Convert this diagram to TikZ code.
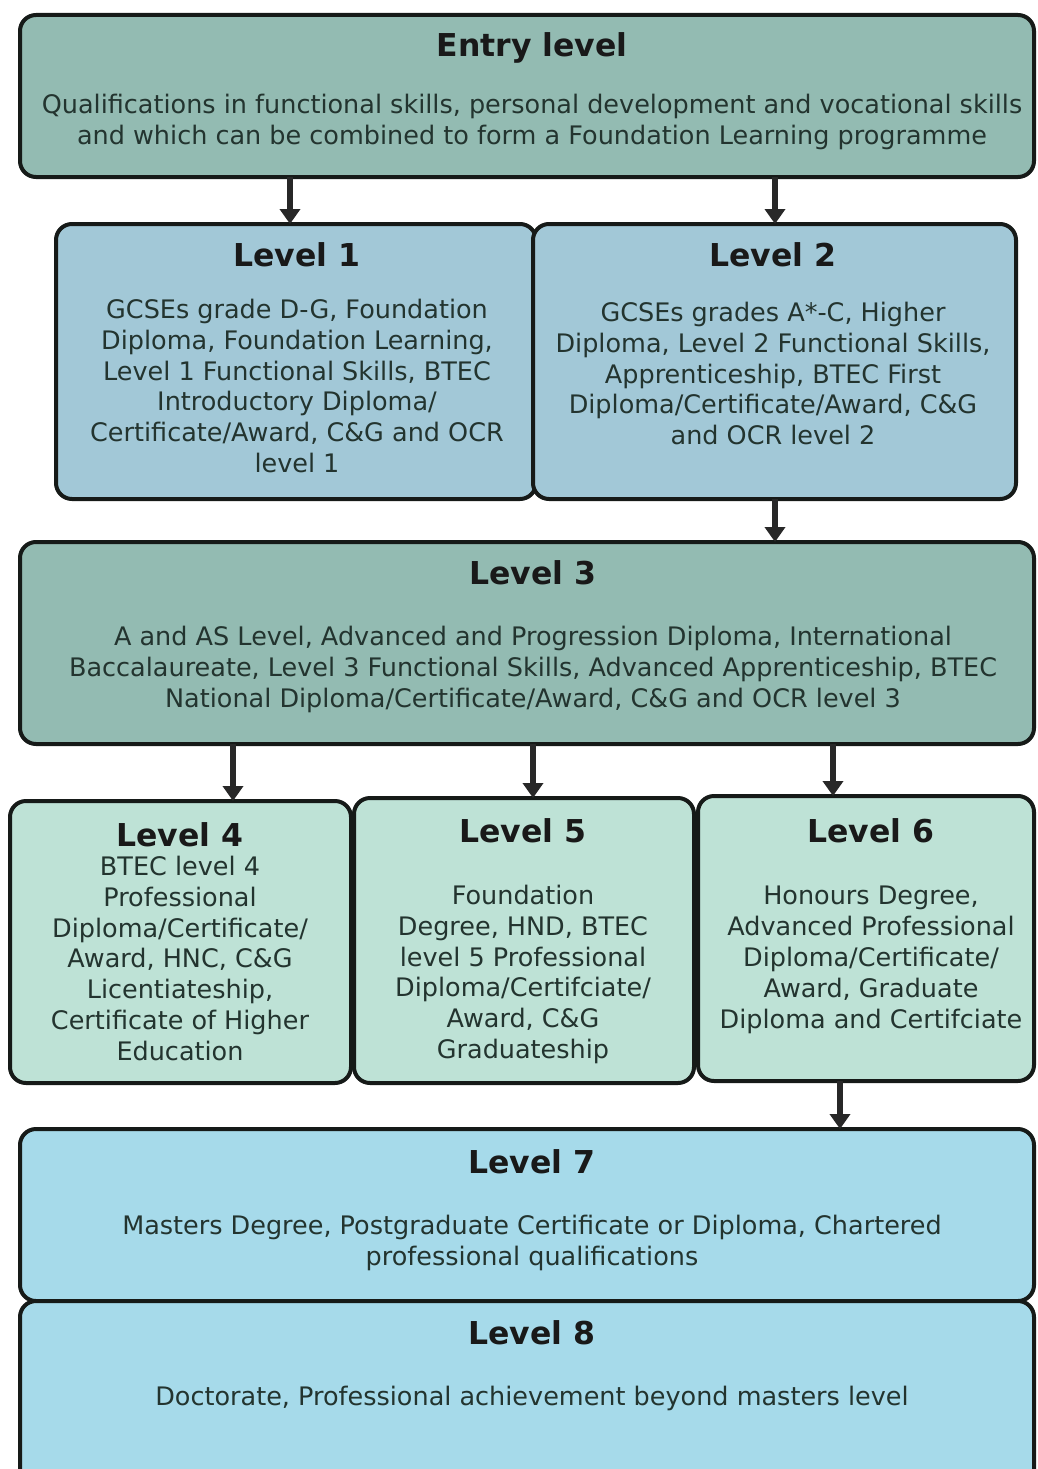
\documentclass[tikz,border=0pt]{standalone}
\usepackage{fontspec}
\setmainfont{DejaVu Sans}
\usetikzlibrary{arrows.meta,calc}
\definecolor{tealbox}{RGB}{147,187,178}
\definecolor{bluegrey}{RGB}{162,200,215}
\definecolor{mint}{RGB}{190,226,214}
\definecolor{skyb}{RGB}{166,218,234}
\definecolor{edge}{RGB}{22,26,24}
\definecolor{bodytxt}{RGB}{35,52,47}
\definecolor{arrowc}{RGB}{40,40,40}
\tikzset{
  box/.style={draw=edge, line width=4pt, rounded corners=16pt, anchor=north west, inner sep=0pt, outer sep=0pt},
  ttl/.style={font=\fontsize{31.5}{36}\selectfont\bfseries, text=black!90, anchor=base, inner sep=0pt},
  bodyt/.style={font=\fontsize{25.5}{30.8}\selectfont, text=bodytxt, align=center, anchor=north, inner sep=0pt},
  arr/.style={draw=arrowc, line width=6pt, -{Triangle[width=20pt,length=15pt]}},
}
\begin{document}
\begin{tikzpicture}[x=1pt,y=-1pt]
\useasboundingbox (0,0) rectangle (1037,1469);
% boxes
\node[box, fill=tealbox, minimum width=1014pt, minimum height=162pt] (entry) at (20,15) {};
\node[box, fill=bluegrey, minimum width=480pt, minimum height=275pt] (L1) at (56,224) {};
\node[box, fill=bluegrey, minimum width=483pt, minimum height=275pt] (L2) at (533,224) {};
\node[box, fill=tealbox, minimum width=1014pt, minimum height=202pt] (L3) at (20,542) {};
\node[box, fill=mint, minimum width=341pt, minimum height=282pt] (L4) at (10,801) {};
\node[box, fill=mint, minimum width=340pt, minimum height=285pt] (L5) at (354,798) {};
\node[box, fill=mint, minimum width=336pt, minimum height=285pt] (L6) at (698,796) {};
\node[box, fill=skyb, minimum width=1014pt, minimum height=172pt] (L7) at (20,1129) {};
\node[box, fill=skyb, minimum width=1014pt, minimum height=200pt] (L8) at (20,1301) {};
% texts
\node[ttl] (tE) at (532,57) {Entry level};
\node[bodyt] (bE) at (532,94) {Qualifications in functional skills, personal development and vocational skills\\and which can be combined to form a Foundation Learning programme};
\node[ttl] (t1) at (297,266) {Level 1};
\node[bodyt] (b1) at (297,299) {GCSEs grade D-G, Foundation\\Diploma, Foundation Learning,\\Level 1 Functional Skills, BTEC\\Introductory Diploma/\\Certificate/Award, C\&G and OCR\\level 1};
\node[ttl] (t2) at (773,266) {Level 2};
\node[bodyt] (b2) at (773,302) {GCSEs grades A*-C, Higher\\Diploma, Level 2 Functional Skills,\\Apprenticeship, BTEC First\\Diploma/Certificate/Award, C\&G\\and OCR level 2};
\node[ttl] (t3) at (533,584) {Level 3};
\node[bodyt] (b3) at (533,626) {A and AS Level, Advanced and Progression Diploma, International\\Baccalaureate, Level 3 Functional Skills, Advanced Apprenticeship, BTEC\\National Diploma/Certificate/Award, C\&G and OCR level 3};
\node[ttl] (t4) at (180,846) {Level 4};
\node[bodyt] (b4) at (180,856) {BTEC level 4\\Professional\\Diploma/Certificate/\\Award, HNC, C\&G\\Licentiateship,\\Certificate of Higher\\Education};
\node[ttl] (t5) at (523,842) {Level 5};
\node[bodyt] (b5) at (523,885) {Foundation\\Degree, HND, BTEC\\level 5 Professional\\Diploma/Certifciate/\\Award, C\&G\\Graduateship};
\node[ttl] (t6) at (871,842) {Level 6};
\node[bodyt] (b6) at (871,886) {Honours Degree,\\Advanced Professional\\Diploma/Certificate/\\Award, Graduate\\Diploma and Certifciate};
\node[ttl] (t7) at (532,1173) {Level 7};
\node[bodyt] (b7) at (532,1215) {Masters Degree, Postgraduate Certificate or Diploma, Chartered\\professional qualifications};
\node[ttl] (t8) at (532,1344) {Level 8};
\node[bodyt] (b8) at (532,1386) {Doctorate, Professional achievement beyond masters level};
% arrow columns
\coordinate (xa) at (290,0);
\coordinate (xb) at (775,0);
\coordinate (x4) at (233,0);
\coordinate (x5) at (533,0);
\coordinate (x6) at (833,0);
\coordinate (x7) at (840,0);
% connectors
\draw[arr] (entry.south -| xa) -- (L1.north -| xa);
\draw[arr] (entry.south -| xb) -- (L2.north -| xb);
\draw[arr] (L2.south -| xb) -- (L3.north -| xb);
\draw[arr] (L3.south -| x4) -- (L4.north -| x4);
\draw[arr] (L3.south -| x5) -- (L5.north -| x5);
\draw[arr] (L3.south -| x6) -- (L6.north -| x6);
\draw[arr] (L6.south -| x7) -- (L7.north -| x7);
\end{tikzpicture}
\end{document}
